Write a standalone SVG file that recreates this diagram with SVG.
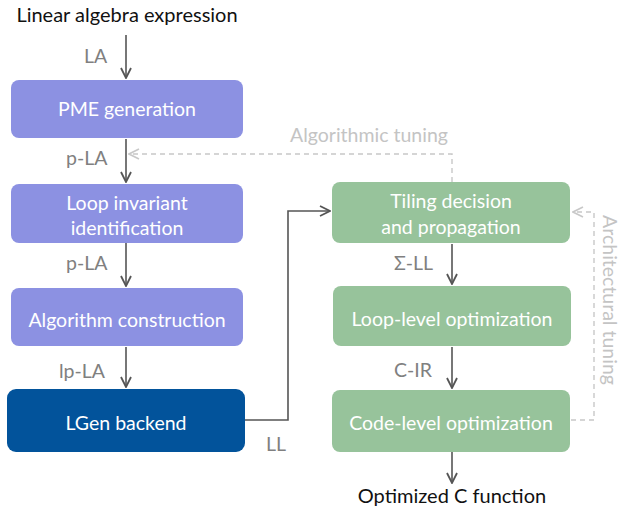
<svg xmlns="http://www.w3.org/2000/svg" width="622" height="509" viewBox="0 0 622 509">
<style>
text{font-family:Lato,"Open Sans","DejaVu Sans",sans-serif}
.ext{font-size:20px;fill:#111;text-anchor:middle}
.lbl{font-size:19.5px;fill:#808080}
.nt{font-size:19.5px;fill:#fff;text-anchor:middle}
.tune{font-size:19.5px;fill:#c4c4c4}
.pur{fill:#8c91e2}
.grn{fill:#97c39b}
.blu{fill:#02539b}
.solid{fill:none;stroke:#555;stroke-width:1.6;marker-end:url(#ah)}
.dash{fill:none;stroke:#c8c8c8;stroke-width:1.4;stroke-dasharray:5 4;marker-end:url(#ahl)}
</style>
<defs>
<marker id="ah" viewBox="0 0 12 12" refX="11" refY="6" markerWidth="12" markerHeight="12" markerUnits="userSpaceOnUse" orient="auto">
<polyline points="1,1 11,6 1,11" fill="none" stroke="#555" stroke-width="1.8"/>
</marker>
<marker id="ahl" viewBox="0 0 12 12" refX="11" refY="6" markerWidth="12" markerHeight="12" markerUnits="userSpaceOnUse" orient="auto">
<polyline points="1,1 11,6 1,11" fill="none" stroke="#c8c8c8" stroke-width="1.6"/>
</marker>
</defs>
<text class="ext" x="127" y="22">Linear algebra expression</text>
<text class="ext" x="452" y="503">Optimized C function</text>
<g id="connectors">
<path class="solid" d="M126,35 V78"/>
<path class="solid" d="M126,139 V182"/>
<path class="solid" d="M126,243 V286"/>
<path class="solid" d="M126,347 V387"/>
<path class="solid" d="M245,420 H288 V211 H330"/>
<path class="solid" d="M452,244 V284"/>
<path class="solid" d="M452,347 V388"/>
<path class="solid" d="M452,452 V483"/>
<path class="dash" d="M452,182 V154 H129"/>
<path class="dash" d="M571,420 H594 V212 H573"/>
<text class="lbl" x="84" y="63">LA</text>
<text class="lbl" x="66" y="165">p-LA</text>
<text class="lbl" x="66" y="270">p-LA</text>
<text class="lbl" x="59" y="378">lp-LA</text>
<text class="lbl" x="266" y="451">LL</text>
<text class="lbl" x="394" y="270">Σ-LL</text>
<text class="lbl" x="394" y="377">C-IR</text>
<text class="tune" x="290" y="142">Algorithmic tuning</text>
<text class="tune" transform="translate(603,300) rotate(90)" text-anchor="middle">Architectural tuning</text>
</g>
<g id="pme"><rect class="pur" x="11" y="80" width="232" height="58" rx="8"/><text class="nt" x="127" y="116">PME generation</text></g>
<g id="loopinv"><rect class="pur" x="11" y="184" width="232" height="59" rx="8"/><text class="nt" x="127" y="210">Loop invariant</text><text class="nt" x="127" y="235">identification</text></g>
<g id="algcon"><rect class="pur" x="11" y="288" width="232" height="58" rx="8"/><text class="nt" x="127" y="327">Algorithm construction</text></g>
<g id="lgen"><rect class="blu" x="7" y="389" width="238" height="63" rx="9"/><text class="nt" x="126" y="430">LGen backend</text></g>
<g id="tiling"><rect class="grn" x="332" y="182" width="238" height="61" rx="8"/><text class="nt" x="451" y="208">Tiling decision</text><text class="nt" x="451" y="234">and propagation</text></g>
<g id="looplevel"><rect class="grn" x="333" y="286" width="238" height="60" rx="8"/><text class="nt" x="452" y="326">Loop-level optimization</text></g>
<g id="codelevel"><rect class="grn" x="332" y="390" width="238" height="62" rx="8"/><text class="nt" x="451" y="430">Code-level optimization</text></g>
</svg>
